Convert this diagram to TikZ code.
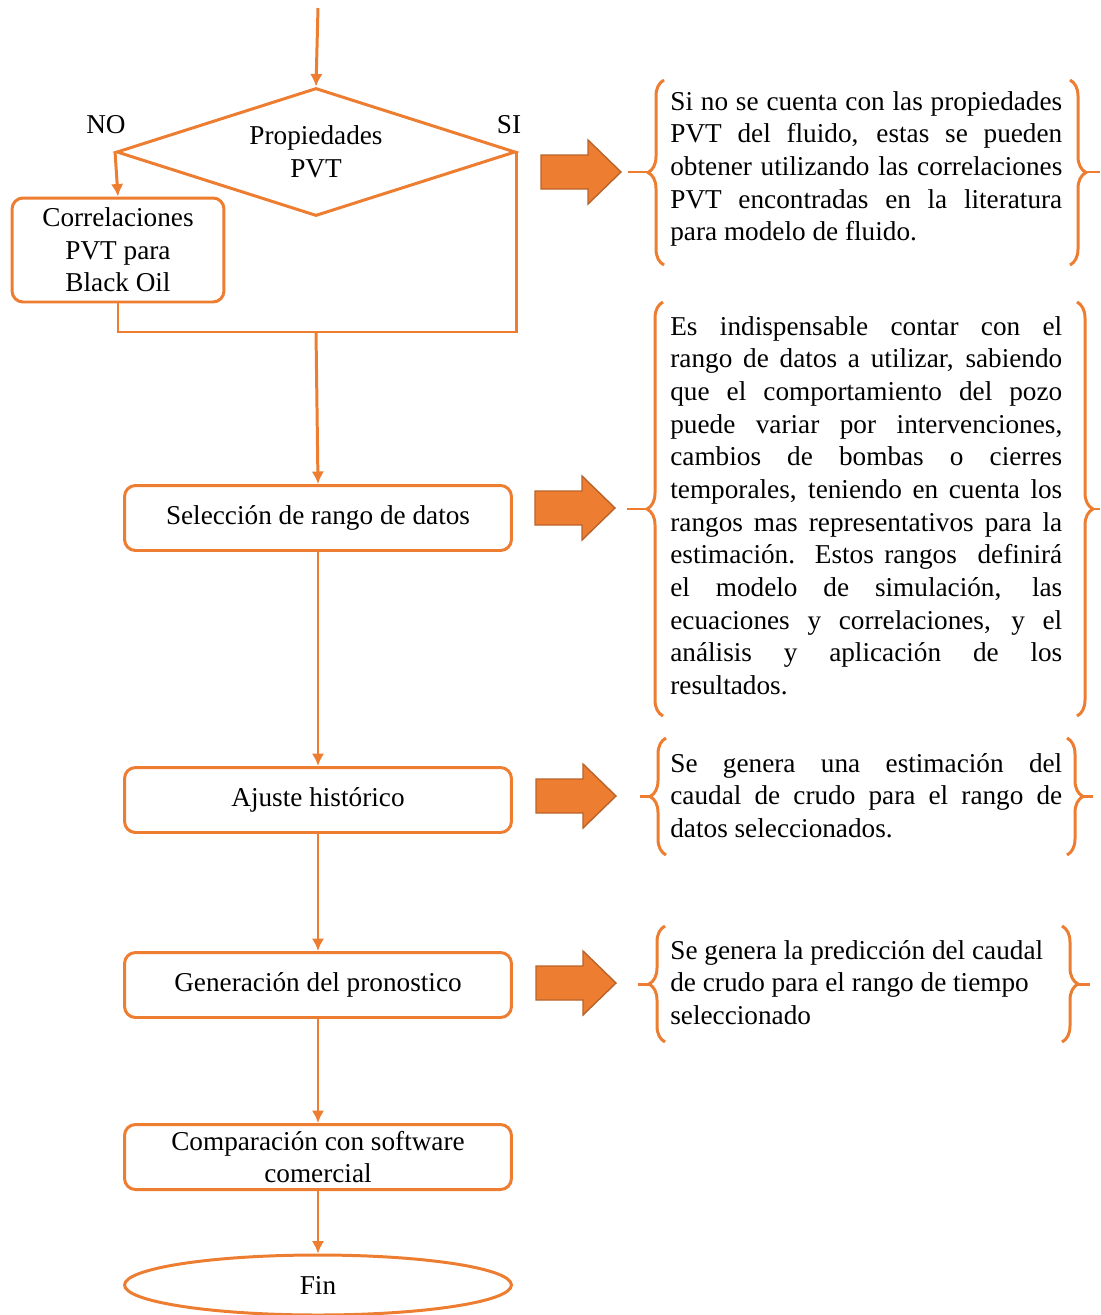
\documentclass[tikz,border=0pt]{standalone}
\usepackage{fontspec}
\setmainfont{Liberation Serif}
\usetikzlibrary{shapes.geometric,arrows.meta,decorations.pathreplacing}
\definecolor{naranja}{HTML}{ED7D31}
\definecolor{naranjaosc}{HTML}{B9632A}
\tikzset{
	proceso/.style  = {draw=naranja, line width=1.7pt, rectangle, rounded corners=0.22cm,
		minimum width=7.74cm, minimum height=1.3cm, align=center},
	decision/.style = {draw=naranja, line width=1.7pt, diamond, aspect=3.1,
		minimum width=7.98cm, minimum height=2.56cm, align=center, inner sep=0pt},
	terminal/.style = {draw=naranja, line width=1.7pt, ellipse,
		minimum width=7.74cm, minimum height=1.2cm},
	flecha/.style   = {draw=naranja, line width=1.7pt, ->},
	llave/.style    = {draw=naranja, line width=1.7pt, decorate,
		decoration={brace, amplitude=0.32cm}},
	punta/.style    = {draw=naranja, line width=1.7pt},
	bloque/.style   = {fill=naranja, draw=naranjaosc, line width=0.8pt},
	nota/.style     = {anchor=base west, inner sep=0pt, text width=7.84cm, align=justify}
}
\newcommand{\fila}[1]{\makebox[7.84cm][s]{#1}\\}
\newcommand{\flechagorda}[2]{\draw[bloque] (#1,#2) ++(0,-17) -- ++(47,0) -- ++(0,-15)
	-- ++(33,32) -- ++(-33,32) -- ++(0,-15) -- ++(-47,0) -- cycle;}

\begin{document}
\begin{tikzpicture}[x=0.02cm, y=-0.02cm, >={Latex[length=2.5mm,width=2.5mm]},
	font=\fontsize{15.5}{18.6}\selectfont]
	\useasboundingbox (0,0) rectangle (1100,1315);
	
	% diagrama de flujo
	\coordinate (inicio) at (318,8);
	\node at (316,152) [decision] (dec) {Propiedades\\PVT};
	\node at (106,125) (no) {NO};
	\node at (509,125) (si) {SI};
	\node at (118,250) [proceso, minimum width=4.24cm, minimum height=2.08cm] (corr)
		{Correlaciones\\PVT para\\Black Oil};
	\coordinate (union) at (316,332);
	\node at (318,518) [proceso] (sel) {Selección de rango de datos};
	\node at (318,800) [proceso] (aju) {Ajuste histórico};
	\node at (318,985) [proceso] (gen) {Generación del pronostico};
	\node at (318,1157) [proceso] (comp) {Comparación con software\\comercial};
	\node at (318,1285) [terminal] (fin) {Fin};
	
	\draw[flecha] (inicio) -- (dec.north);
	\draw[flecha] (dec.west) -- (corr.north);
	\draw[punta] (corr.south) |- (union) -| (dec.east);
	\draw[flecha] (union) -- (sel.north);
	\draw[flecha] (sel) -- (aju);
	\draw[flecha] (aju) -- (gen);
	\draw[flecha] (gen) -- (comp);
	\draw[flecha] (comp) -- (fin);
	
	% flechas gruesas
	\flechagorda{541}{172}
	\flechagorda{535}{508}
	\flechagorda{536}{796}
	\flechagorda{536}{983}
	
	% llaves
	\draw[llave] (664,265) -- (664,80);
	\draw[punta] (648,172) -- (628,172);
	\draw[llave] (1070,80) -- (1070,265);
	\draw[punta] (1086,172) -- (1100,172);
	
	\draw[llave] (663,716) -- (663,302);
	\draw[punta] (647,509) -- (627,509);
	\draw[llave] (1077,302) -- (1077,716);
	\draw[punta] (1093,509) -- (1100,509);
	
	\draw[llave] (666,855) -- (666,738);
	\draw[punta] (650,796) -- (640,796);
	\draw[llave] (1067,738) -- (1067,855);
	\draw[punta] (1083,796) -- (1093,796);
	
	\draw[llave] (665,1042) -- (665,926);
	\draw[punta] (649,984) -- (638,984);
	\draw[llave] (1062,926) -- (1062,1042);
	\draw[punta] (1078,984) -- (1090,984);
	
	% textos
	\node at (670,110) [nota] (t1) {%
		\fila{Si no se cuenta con las propiedades}
		\fila{PVT del fluido, estas se pueden}
		\fila{obtener utilizando las correlaciones}
		\fila{PVT encontradas en la literatura}
		para modelo de fluido.};
	\node at (670,335) [nota] (t2) {%
		\fila{Es indispensable contar con el}
		\fila{rango de datos a utilizar, sabiendo}
		\fila{que el comportamiento del pozo}
		\fila{puede variar por intervenciones,}
		\fila{cambios de bombas o cierres}
		\fila{temporales, teniendo en cuenta los}
		\fila{rangos mas representativos para la}
		\fila{estimación. Estos rangos \ definirá}
		\fila{el modelo de simulación, las}
		\fila{ecuaciones y correlaciones, y el}
		\fila{análisis y aplicación de los}
		resultados.};
	\node at (670,772) [nota] (t3) {%
		\fila{Se genera una estimación del}
		\fila{caudal de crudo para el rango de}
		datos seleccionados.};
	\node at (670,959) [nota] (t4) {%
		Se genera la predicción del caudal\\
		de crudo para el rango de tiempo\\
		seleccionado};
	
\end{tikzpicture}
\end{document}
